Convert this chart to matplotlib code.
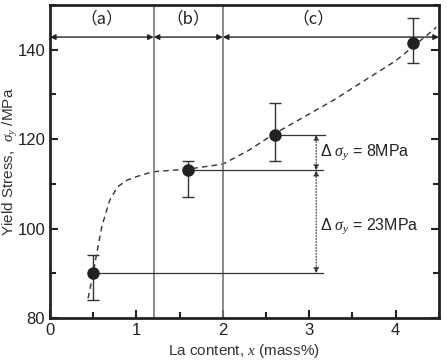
import matplotlib
matplotlib.use("Agg")
import matplotlib.pyplot as plt
from matplotlib.ticker import MultipleLocator

plt.rcParams['font.family'] = ['Liberation Sans', 'Noto Sans CJK JP', 'DejaVu Sans']
plt.rcParams['mathtext.fontset'] = 'custom'
plt.rcParams['mathtext.it'] = 'Liberation Serif:italic'
plt.rcParams['mathtext.rm'] = 'Liberation Sans'

# data
la_content = [0.5, 1.6, 2.6, 4.2]
yield_stress = [90, 113, 121, 141.5]
err_low = [84, 107, 115, 137]
err_high = [94, 115, 128, 147]

fit_x = [0.44, 0.50, 0.54, 0.60, 0.69, 0.78, 0.89, 1.0, 1.19, 1.6, 2.0, 2.3, 2.58, 3.28, 4.0, 4.41, 4.47]
fit_y = [84.4, 90.0, 94.4, 100.5, 106.3, 109.3, 110.8, 111.6, 112.7, 113.3, 114.4, 117.5, 121.0, 128.7, 137.5, 144.0, 145.0]

boundaries = [1.2, 2.0]
regions = ['(a)', '(b)', '(c)']
region_x = [0.6, 1.6, 3.05]
delta_labels = ['8MPa', '23MPa']

fig = plt.figure(figsize=(4.47, 3.62), dpi=100)
ax = fig.add_axes([0.1119, 0.1215, 0.870, 0.865])

ax.set_xlim(0, 4.5)
ax.set_ylim(80, 150)

ink = '#222222'
# dashed fit
ax.plot(fit_x, fit_y, ls=(0, (4, 3)), color='#333333', lw=1.0)

# boundary lines
for b in boundaries:
    ax.axvline(b, color='#777777', lw=1.2)

# horizontal reference lines
ax.plot([la_content[0], 3.16], [yield_stress[0]] * 2, color='#333333', lw=0.9)
ax.plot([la_content[1], 3.16], [yield_stress[1]] * 2, color='#333333', lw=0.9)
ax.plot([la_content[2], 3.18], [yield_stress[2]] * 2, color='#333333', lw=0.9)

# error bars and points
yerr = [[y - l for y, l in zip(yield_stress, err_low)],
        [h - y for y, h in zip(yield_stress, err_high)]]
ax.errorbar(la_content, yield_stress, yerr=yerr, fmt='o', color=ink, ms=8,
            ecolor='#333333', elinewidth=1.0, capsize=4, capthick=1.0, zorder=5)

# delta arrows
xa = 3.08
ax.annotate('', xy=(xa, yield_stress[2]), xytext=(xa, yield_stress[1]),
            arrowprops=dict(arrowstyle='<|-|>', color='#333333', lw=0.8, ls=':',
                            mutation_scale=8, shrinkA=0, shrinkB=0))
ax.annotate('', xy=(xa, yield_stress[1]), xytext=(xa, yield_stress[0]),
            arrowprops=dict(arrowstyle='<|-|>', color='#333333', lw=0.8, ls=':',
                            mutation_scale=8, shrinkA=0, shrinkB=0))
ax.text(3.12, (yield_stress[1] + yield_stress[2]) / 2, r'$\mathit{\Delta}\ \mathit{\sigma}_{y}$ = ' + delta_labels[0],
        fontsize=11.5, va='center', ha='left', color=ink)
ax.text(3.12, 100.5, r'$\mathit{\Delta}\ \mathit{\sigma}_{y}$ = ' + delta_labels[1],
        fontsize=11.5, va='center', ha='left', color=ink)

# region arrows
ya = 142.8
edges = [0] + boundaries + [4.5]
for i in range(3):
    ax.annotate('', xy=(edges[i], ya), xytext=(edges[i + 1], ya),
                arrowprops=dict(arrowstyle='<|-|>', color=ink, lw=1.0,
                                mutation_scale=8, shrinkA=0, shrinkB=0))
    ax.text(region_x[i], 146.8, regions[i].replace('(', '（').replace(')', '）'),
            fontsize=12, ha='center', va='center', color=ink,
            family=['Noto Sans CJK JP'])

# axes styling
for s in ax.spines.values():
    s.set_linewidth(2.0)
    s.set_color(ink)
ax.xaxis.set_major_locator(MultipleLocator(1))
ax.xaxis.set_minor_locator(MultipleLocator(0.5))
ax.yaxis.set_major_locator(MultipleLocator(20))
ax.yaxis.set_minor_locator(MultipleLocator(10))
ax.tick_params(which='both', direction='in', right=True, top=False, colors=ink,
               labelsize=12, width=1.5)
ax.tick_params(which='major', length=6)
ax.tick_params(which='minor', length=4)

ax.set_ylabel(r'Yield Stress,  $\mathit{\sigma}_{y}$ /MPa', fontsize=11, color='#333333')
ax.yaxis.set_label_coords(-0.078, 0.5)
ax.set_xlabel('La content, $x$ (mass%)', fontsize=11, color='#333333')
ax.xaxis.set_label_coords(0.5, -0.078)

fig.savefig('out.png', dpi=100)
